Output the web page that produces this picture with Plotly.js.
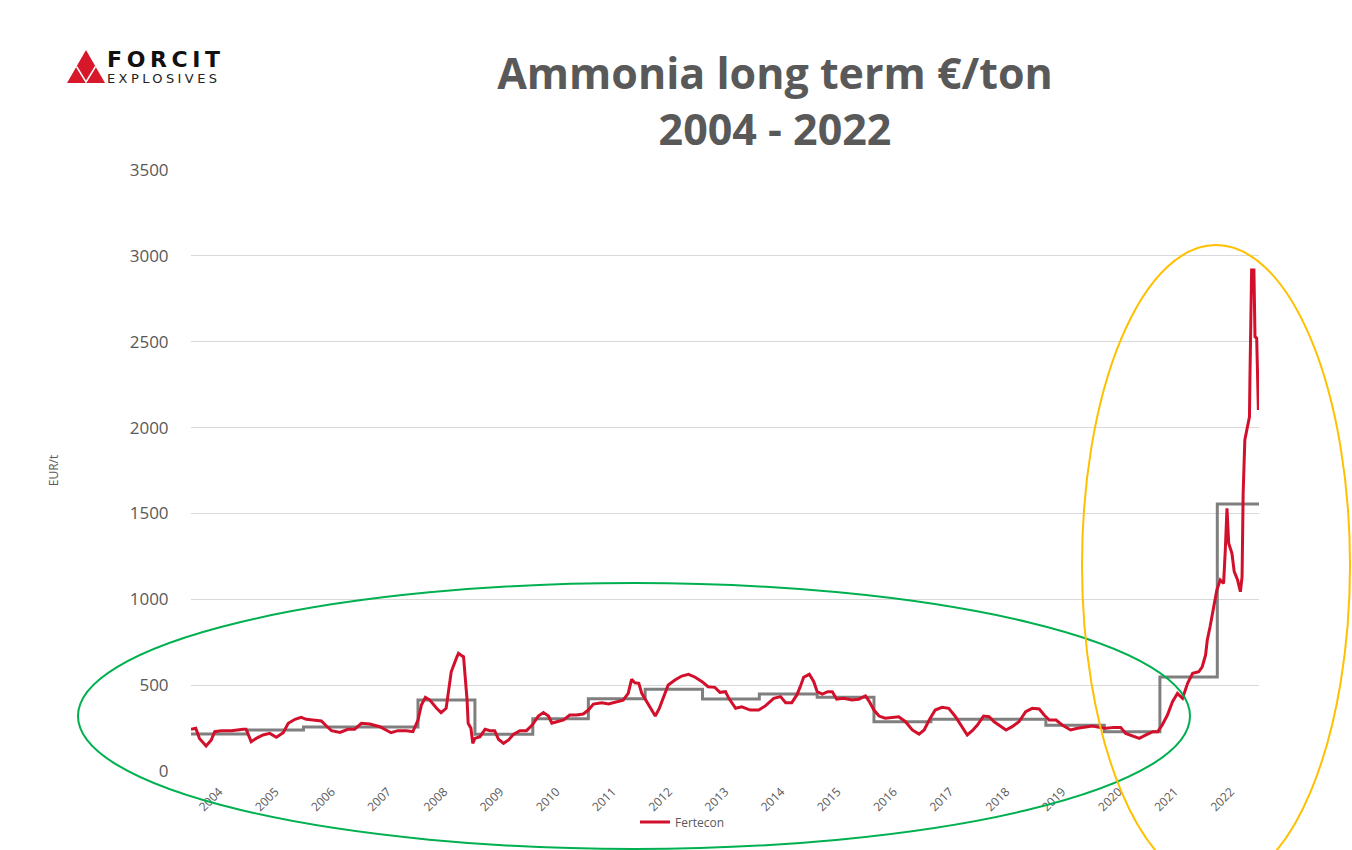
<!DOCTYPE html>
<html>
<head>
<meta charset="utf-8">
<script src="https://cdn.plot.ly/plotly-3.0.1.min.js"></script>
<style>html,body{margin:0;padding:0;background:#fff;}#chart{width:1352px;height:850px;}</style>
</head>
<body>
<div id="chart"></div>
<script>
// ---- Data ----
const fertDates = ['2004-01-01','2004-02-01','2004-02-25','2004-04-08','2004-05-12','2004-06-03','2004-07-16','2004-09-20','2004-12-05','2004-12-24',
'2005-01-26','2005-02-28','2005-04-13','2005-05-27','2005-07-09','2005-08-22','2005-09-24','2005-11-07','2005-12-17',
'2006-01-19','2006-03-03','2006-04-27','2006-05-30','2006-07-02','2006-08-26','2006-10-16','2006-11-29',
'2007-01-12','2007-03-08','2007-05-12','2007-07-24','2007-09-06','2007-10-31','2007-12-13',
'2008-01-15','2008-02-06','2008-03-03','2008-04-01','2008-05-15','2008-06-13','2008-07-16','2008-08-18','2008-09-20','2008-10-04','2008-10-27','2008-11-06','2008-11-29','2008-12-06','2008-12-24',
'2009-01-05','2009-01-19','2009-02-21','2009-03-26','2009-04-28','2009-05-27','2009-06-21','2009-07-24','2009-08-26','2009-09-28','2009-11-07','2009-12-20',
'2010-01-26','2010-03-07','2010-04-09','2010-05-12','2010-06-03','2010-07-06','2010-08-18','2010-09-27','2010-11-10','2010-12-24',
'2011-01-26','2011-02-28','2011-04-23','2011-06-06','2011-07-16','2011-09-09','2011-10-12','2011-11-03','2011-11-24','2011-12-20',
'2012-01-08','2012-02-10','2012-03-14','2012-04-05','2012-05-01','2012-05-26','2012-06-28','2012-08-11','2012-09-24','2012-11-07','2012-12-20',
'2013-02-03','2013-03-14','2013-04-27','2013-05-30','2013-07-05','2013-07-27','2013-09-09','2013-10-19','2013-12-13',
'2014-02-06','2014-03-21','2014-05-15','2014-06-28','2014-07-31','2014-09-09','2014-10-12','2014-11-03','2014-11-25',
'2015-01-01','2015-01-30','2015-02-21','2015-03-26','2015-05-01','2015-05-30','2015-06-28','2015-08-11','2015-10-05','2015-11-18',
'2016-01-01','2016-01-23','2016-02-25','2016-03-29','2016-05-08','2016-06-21','2016-08-04','2016-09-17','2016-10-31','2016-12-14',
'2017-01-16','2017-02-18','2017-03-29','2017-05-12','2017-06-25','2017-08-08','2017-09-10','2017-10-23','2017-11-25','2017-12-28',
'2018-02-06','2018-03-14','2018-04-16','2018-05-19','2018-07-02','2018-08-11','2018-09-24','2018-11-07','2018-12-20',
'2019-02-03','2019-03-07','2019-04-09','2019-05-23','2019-07-02','2019-08-26','2019-10-09','2019-12-02',
'2020-01-15','2020-02-28','2020-04-12','2020-06-02','2020-07-16','2020-08-18','2020-10-01','2020-11-14','2020-12-28',
'2021-02-10','2021-03-14','2021-04-12','2021-05-16','2021-06-18','2021-07-20','2021-08-22','2021-09-24','2021-10-27','2021-12-06','2021-12-28',
'2022-01-19','2022-01-30','2022-02-17','2022-03-11','2022-04-02','2022-04-24','2022-05-16','2022-05-27','2022-06-07','2022-06-18','2022-07-09','2022-07-24','2022-08-15','2022-09-02','2022-09-13','2022-09-20','2022-10-01','2022-10-16','2022-10-31','2022-11-03','2022-11-14','2022-11-29','2022-12-06','2022-12-17','2022-12-28'];
const fertValues = [243,249,190,146,181,229,235,235,243,243,
171,190,210,219,196,223,278,301,313,
301,297,291,262,235,225,243,243,
278,274,258,223,235,235,229,
297,384,429,413,365,340,365,578,656,685,670,666,413,278,249,
161,190,200,243,235,235,185,161,181,215,235,235,
268,320,340,320,278,287,297,326,326,332,
355,390,398,390,400,413,452,534,514,511,
452,404,355,320,365,423,501,530,553,563,546,
520,491,487,458,462,423,365,374,355,
355,379,423,433,398,398,443,491,546,
563,520,462,448,462,462,418,423,413,418,
437,409,355,320,307,313,316,287,239,215,
239,297,355,371,365,316,268,210,235,268,
320,316,287,268,239,258,287,345,365,
361,326,297,297,268,239,249,254,
262,254,249,254,254,219,204,190,210,
229,229,268,326,404,452,423,511,569,578,607,
676,763,840,957,1054,1112,1093,1287,1530,1326,1268,1161,1112,1044,1132,1617,1928,1996,2063,2277,2918,2918,2529,2520,2102];

const contractLabel = 'Long term';
const contractDates = ['2004-01-01','2005-01-01','2006-01-01','2008-01-15','2009-01-19','2010-01-30','2011-01-26','2012-01-30','2013-02-06','2014-02-10','2015-02-21','2016-02-25','2017-03-01','2019-03-18','2020-04-01','2021-03-28','2022-04-05','2023-01-01'];
const contractValues = [215,239,256,413,214,305,421,476,420,448,429,287,302,266,229,548,1555,1555];

const yearLabels = ['2004','2005','2006','2007','2008','2009','2010','2011','2012','2013','2014','2015','2016','2017','2018','2019','2020','2021','2022'];
const yearTickDates = yearLabels.map(y => y + '-07-02');

// ---- Layout helpers (pixel -> paper) ----
const W = 1352, H = 850;
const M = {l: 191, r: 93, t: 170, b: 79};
const PW = W - M.l - M.r, PH = H - M.t - M.b;
const fx = px => (px - M.l) / PW;
const fy = py => (H - M.b - py) / PH;
const grey = '#595959';

const traces = [
  {
    x: contractDates, y: contractValues, name: contractLabel, type: 'scatter', mode: 'lines',
    line: {color: '#7f7f7f', width: 3, shape: 'hv'}, showlegend: false
  },
  {
    x: fertDates, y: fertValues, name: 'Fertecon', type: 'scatter', mode: 'lines',
    line: {color: '#d2102c', width: 3}, showlegend: true
  }
];

const logoTri = `M ${fx(67)} ${fy(83)} L ${fx(86)} ${fy(50)} L ${fx(105)} ${fy(83)} Z`;
const logoLines = `M ${fx(76.5)} ${fy(66.5)} L ${fx(86)} ${fy(82)} L ${fx(95.5)} ${fy(66.5)}`;

const layout = {
  width: W, height: H,
  margin: M,
  paper_bgcolor: '#ffffff', plot_bgcolor: '#ffffff',
  font: {family: 'Open Sans, sans-serif', color: grey},
  title: {
    text: 'Ammonia long term €/ton<br>2004 - 2022',
    font: {family: 'Open Sans, sans-serif', size: 43, weight: 'bold', color: grey},
    x: 775 / W, xanchor: 'center', xref: 'container',
    y: 1 - 89 / H, yanchor: 'top', yref: 'container'
  },
  xaxis: {
    type: 'date',
    range: ['2004-01-01', '2023-01-01'],
    tickmode: 'array', tickvals: yearTickDates, ticktext: yearLabels,
    tickangle: -45, tickfont: {size: 12, color: grey},
    ticks: 'outside', ticklen: 8, tickcolor: 'rgba(0,0,0,0)',
    showgrid: false, zeroline: false, showline: false, fixedrange: true
  },
  yaxis: {
    range: [0, 3500], tickmode: 'linear', tick0: 0, dtick: 500,
    tickfont: {size: 17, color: grey},
    ticks: 'outside', ticklen: 18, tickcolor: 'rgba(0,0,0,0)',
    showgrid: true, gridcolor: '#d9d9d9', gridwidth: 1,
    zeroline: false, showline: false,
    title: {text: 'EUR/t', font: {size: 12, color: grey}, standoff: 68},
    fixedrange: true
  },
  legend: {
    orientation: 'h', x: fx(635), xanchor: 'left', y: fy(822), yanchor: 'middle',
    font: {size: 12, color: grey}, bgcolor: 'rgba(0,0,0,0)'
  },
  shapes: [
    {type: 'circle', xref: 'paper', yref: 'paper', x0: fx(78), x1: fx(1190), y0: fy(849), y1: fy(583),
     line: {color: '#00b050', width: 2}, layer: 'above'},
    {type: 'circle', xref: 'paper', yref: 'paper', x0: fx(1082), x1: fx(1350), y0: fy(885), y1: fy(245),
     line: {color: '#ffc000', width: 2}, layer: 'above'},
    {type: 'path', xref: 'paper', yref: 'paper', path: logoTri, fillcolor: '#d7182a', line: {width: 0}},
    {type: 'path', xref: 'paper', yref: 'paper', path: logoLines, line: {color: '#ffffff', width: 1.5}}
  ],
  annotations: [
    {xref: 'paper', yref: 'paper', x: fx(105), y: fy(74), xanchor: 'left', yanchor: 'bottom', showarrow: false,
     text: '<span style="letter-spacing:4.6px">FORCIT</span>',
     font: {family: 'DejaVu Sans, sans-serif', size: 22, weight: 'bold', color: '#111111'}},
    {xref: 'paper', yref: 'paper', x: fx(105), y: fy(88.5), xanchor: 'left', yanchor: 'bottom', showarrow: false,
     text: '<span style="letter-spacing:3.4px">EXPLOSIVES</span>',
     font: {family: 'DejaVu Sans, sans-serif', size: 13, color: '#222222'}}
  ]
};

Plotly.newPlot('chart', traces, layout, {displayModeBar: false, staticPlot: true});
</script>
</body>
</html>
